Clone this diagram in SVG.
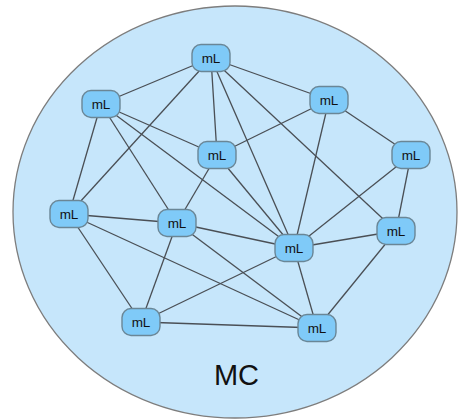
<svg xmlns="http://www.w3.org/2000/svg" width="459" height="419" viewBox="0 0 459 419">
  <style>
    .mc { fill: #c6e6fb; stroke: #7d7d7d; stroke-width: 1.3; }
    .edge { stroke: #4a4f55; stroke-width: 1.3; fill: none; }
    .pill { fill: #7fcaf8; stroke: #6a8696; stroke-width: 1.4; }
    .node text { font-family: "Liberation Sans", Arial, sans-serif; font-size: 13.5px; fill: #111; text-anchor: middle; }
    .title { font-family: "Liberation Sans", Arial, sans-serif; font-size: 29px; fill: #111; text-anchor: middle; }
  </style>
  <defs>
    <rect id="pill" class="pill" x="-19" y="-13.5" width="38" height="27" rx="9" ry="9"/>
  </defs>

  <!-- container -->
  <ellipse class="mc" cx="235" cy="212" rx="222" ry="206"/>
  <text class="title" x="236.5" y="385">MC</text>

  <!-- connectors -->
  <g id="edges" class="edge">
    <line x1="211" y1="58" x2="101" y2="104"/>
    <line x1="211" y1="58" x2="329" y2="100"/>
    <line x1="211" y1="58" x2="217" y2="155"/>
    <line x1="211" y1="58" x2="69" y2="214"/>
    <line x1="211" y1="58" x2="294" y2="248"/>
    <line x1="211" y1="58" x2="396" y2="231"/>
    <line x1="101" y1="104" x2="69" y2="214"/>
    <line x1="101" y1="104" x2="177" y2="223"/>
    <line x1="101" y1="104" x2="217" y2="155"/>
    <line x1="101" y1="104" x2="294" y2="248"/>
    <line x1="329" y1="100" x2="217" y2="155"/>
    <line x1="329" y1="100" x2="294" y2="248"/>
    <line x1="329" y1="100" x2="411" y2="155"/>
    <line x1="217" y1="155" x2="177" y2="223"/>
    <line x1="217" y1="155" x2="294" y2="248"/>
    <line x1="411" y1="155" x2="294" y2="248"/>
    <line x1="411" y1="155" x2="396" y2="231"/>
    <line x1="69" y1="214" x2="177" y2="223"/>
    <line x1="69" y1="214" x2="141" y2="322"/>
    <line x1="69" y1="214" x2="317" y2="328"/>
    <line x1="177" y1="223" x2="294" y2="248"/>
    <line x1="177" y1="223" x2="141" y2="322"/>
    <line x1="177" y1="223" x2="317" y2="328"/>
    <line x1="294" y1="248" x2="396" y2="231"/>
    <line x1="294" y1="248" x2="141" y2="322"/>
    <line x1="294" y1="248" x2="317" y2="328"/>
    <line x1="396" y1="231" x2="317" y2="328"/>
    <line x1="141" y1="322" x2="317" y2="328"/>
  </g>

  <!-- nodes -->
  <g id="n1" class="node" transform="translate(211,58)"><use href="#pill"/><text y="4.8">mL</text></g>
  <g id="n2" class="node" transform="translate(101,104)"><use href="#pill"/><text y="4.8">mL</text></g>
  <g id="n3" class="node" transform="translate(329,100)"><use href="#pill"/><text y="4.8">mL</text></g>
  <g id="n4" class="node" transform="translate(217,155)"><use href="#pill"/><text y="4.8">mL</text></g>
  <g id="n5" class="node" transform="translate(411,155)"><use href="#pill"/><text y="4.8">mL</text></g>
  <g id="n6" class="node" transform="translate(69,214)"><use href="#pill"/><text y="4.8">mL</text></g>
  <g id="n7" class="node" transform="translate(177,223)"><use href="#pill"/><text y="4.8">mL</text></g>
  <g id="n8" class="node" transform="translate(294,248)"><use href="#pill"/><text y="4.8">mL</text></g>
  <g id="n9" class="node" transform="translate(396,231)"><use href="#pill"/><text y="4.8">mL</text></g>
  <g id="n10" class="node" transform="translate(141,322)"><use href="#pill"/><text y="4.8">mL</text></g>
  <g id="n11" class="node" transform="translate(317,328)"><use href="#pill"/><text y="4.8">mL</text></g>
</svg>
